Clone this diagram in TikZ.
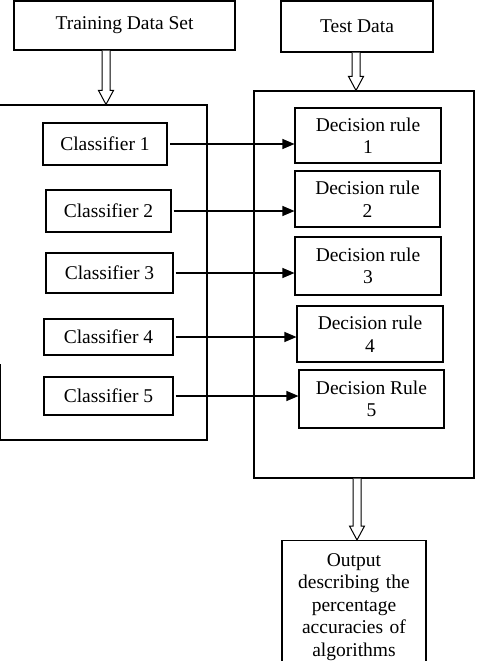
\documentclass[tikz,border=0pt]{standalone}
\usepackage{fontspec}
\setmainfont{Liberation Serif}
\usetikzlibrary{arrows.meta,calc}
\newcommand\hollowdown[3]{%
  \draw[hollow] let \p1=(#2.south -| #1), \p2=(#3.north -| #1) in
    (\x1-4pt,\y1) -- (\x1-4pt,\y2+14pt) -- (\x1-7.5pt,\y2+14pt) -- (\x1,\y2)
    -- (\x1+7.5pt,\y2+14pt) -- (\x1+4pt,\y2+14pt) -- (\x1+4pt,\y1);}
\begin{document}
\begin{tikzpicture}[x=1pt,y=-1pt,
  every node/.style={font=\fontsize{19.5}{22.5}\selectfont, text=black},
  box/.style={draw, line width=1.1pt, inner sep=0pt, align=center},
  conn/.style={line width=1.1pt, -{Triangle[length=12pt,width=10pt]}},
  hollow/.style={draw, line width=1pt, fill=white}]
\useasboundingbox (0,0) rectangle (481,661);
\clip (0,0) rectangle (481,661);

% top boxes
\node[box, minimum width=221pt, minimum height=49pt] (train) at (124.5,25.5) {Training Data Set};
\node[box, minimum width=152pt, minimum height=51pt] (test) at (357,26.5) {Test Data};

% containers
\node[box, minimum width=209pt, minimum height=335pt] (leftbox) at (102.5,272.5) {};
\draw[line width=1.1pt] ([xshift=2.8pt]leftbox.south west) -- ++(0,-77);
\node[box, minimum width=220pt, minimum height=387pt] (rightbox) at (364,284.5) {};

% classifiers
\node[box, line width=2pt, minimum width=124pt, minimum height=42pt] (c1) at (105,144) {Classifier 1};
\node[box, minimum width=125pt, minimum height=42pt] (c2) at (108.5,211) {Classifier 2};
\node[box, minimum width=127pt, minimum height=40pt] (c3) at (109.5,273) {Classifier 3};
\node[box, minimum width=129pt, minimum height=36pt] (c4) at (108.5,337) {Classifier 4};
\node[box, minimum width=129pt, minimum height=38pt] (c5) at (108.5,396) {Classifier 5};

% decision rules
\node[box, minimum width=146pt, minimum height=55pt] (d1) at (368,135.5) {Decision rule\\1};
\node[box, minimum width=145pt, minimum height=56pt] (d2) at (367.5,199) {Decision rule\\2};
\node[box, minimum width=146pt, minimum height=58pt] (d3) at (368,266) {Decision rule\\3};
\node[box, minimum width=146pt, minimum height=56pt] (d4) at (370,334) {Decision rule\\4};
\node[box, minimum width=145pt, minimum height=58pt] (d5) at (371.5,399) {Decision Rule\\5};

% output
\node[box, text width=132pt, inner xsep=6pt, inner ysep=13pt, anchor=north] (out) at (354,540)
  {Output\\describing the\\percentage\\accuracies of\\algorithms};

% connectors
\foreach \i in {1,...,5} {
  \draw[conn] ([xshift=2pt]c\i.east) -- (c\i.east -| d\i.west);
}

\coordinate (xa) at (106,0);
\coordinate (xb) at (356,0);
\coordinate (xc) at (357,0);
\hollowdown{xa}{train}{leftbox}
\hollowdown{xb}{test}{rightbox}
\hollowdown{xc}{rightbox}{out}
\end{tikzpicture}
\end{document}
